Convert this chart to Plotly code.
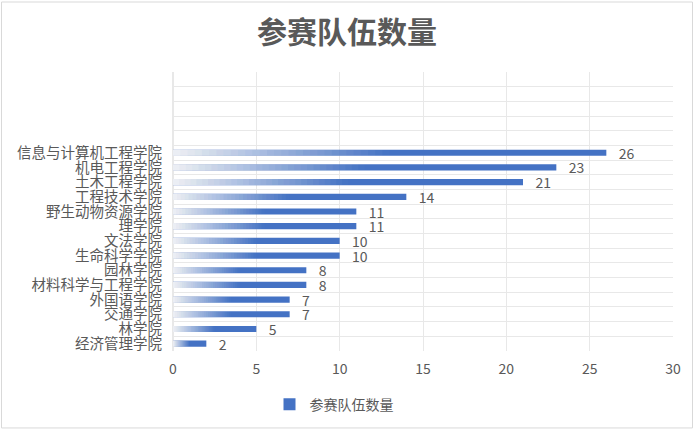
import plotly.graph_objects as go

categories = ["经济管理学院", "林学院", "交通学院", "外国语学院", "材料科学与工程学院", "园林学院",
              "生命科学学院", "文法学院", "理学院", "野生动物资源学院", "工程技术学院",
              "土木工程学院", "机电工程学院", "信息与计算机工程学院"]
values = [2, 5, 7, 7, 8, 8, 10, 10, 11, 11, 14, 21, 23, 26]
blank_rows = [" ", "  ", "   ", "    ", "     "]
series_name = "参赛队伍数量"
x_ticks = [0, 5, 10, 15, 20, 25, 30]

BLUE = "#4472C4"
GRAY = "#595959"
FONT = "Noto Sans CJK SC"

all_cats = categories + blank_rows

fig = go.Figure()
fig.add_trace(go.Bar(
    y=categories, x=values, orientation="h", name=series_name,
    marker=dict(color=BLUE, line=dict(width=0)),
    text=values, texttemplate="   %{x}", textposition="outside", constraintext="none",
    textfont=dict(color=GRAY, size=14, family=FONT), cliponaxis=False,
    hoverinfo="x+y",
))

# white translucent overlays to emulate the gradient fill (white -> blue over first half)
N = 30
g = 0.5
t0 = 0.04
T = [t0 + (1 - t0) * (j - 0.5) / N for j in range(1, N + 1)] + [1.0]
for j in range(1, N + 1):
    a = 1 - T[j - 1] / T[j]
    fig.add_trace(go.Bar(
        y=categories, x=[v * g * j / N for v in values], orientation="h",
        marker=dict(color=f"rgba(255,255,255,{a:.4f})", line=dict(width=0)),
        showlegend=False, hoverinfo="skip",
    ))

fig.update_layout(
    width=694, height=432,
    margin=dict(l=173, r=21, t=72, b=79),
    paper_bgcolor="white", plot_bgcolor="white",
    barmode="overlay", bargap=0.58,
    font=dict(family=FONT, color=GRAY),
    title=dict(text="<b>参赛队伍数量</b>", x=0.5, xref="container", xanchor="center",
               y=1 - 32 / 432, yref="container", yanchor="middle",
               font=dict(size=30, color=GRAY, family=FONT)),
    showlegend=True,
    legend=dict(orientation="h", x=0.322, xanchor="center", y=-0.192, yanchor="middle",
                font=dict(size=14, color=GRAY, family=FONT), itemwidth=30),
    xaxis=dict(range=[0, 30], tickvals=x_ticks, showgrid=True, gridcolor="#E8E8E8", gridwidth=1,
               zeroline=True, zerolinecolor="#E8E8E8", showline=False,
               ticks="outside", ticklen=5, tickcolor="rgba(0,0,0,0)",
               tickfont=dict(size=14, color=GRAY, family=FONT)),
    yaxis=dict(type="category", categoryorder="array", categoryarray=all_cats,
               range=[-0.5, len(all_cats) - 0.5], tickson="boundaries",
               tickmode="linear", tick0=0, dtick=1,
               showgrid=True, gridcolor="#E8E8E8", gridwidth=1, showline=False,
               ticks="", ticklabelstandoff=10,
               tickfont=dict(size=14.5, color=GRAY, family=FONT)),
)

# outer chart border
pw, ph = 694 - 173 - 21, 432 - 72 - 79
fig.add_shape(type="rect", xref="paper", yref="paper",
              x0=(1.5 - 173) / pw, x1=(692.5 - 173) / pw,
              y0=(353 - 430.5) / ph, y1=(353 - 1.5) / ph,
              line=dict(color="#D9D9D9", width=1), fillcolor="rgba(0,0,0,0)", layer="below")

fig.write_html("out.html", config={"displayModeBar": False},
               post_script="document.body.style.margin='0px';")
